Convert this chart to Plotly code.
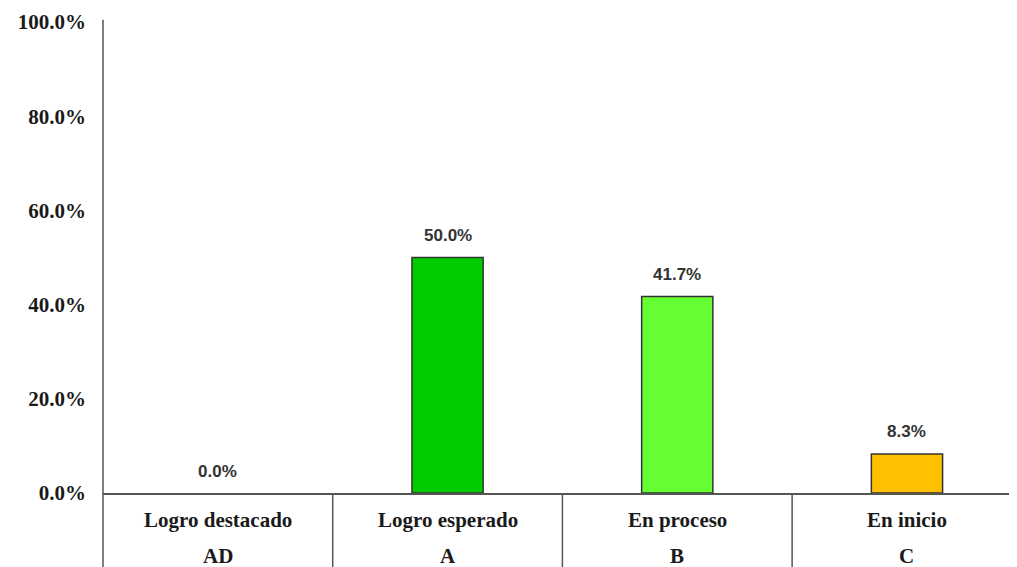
import plotly.graph_objects as go

categories = ["Logro destacado", "Logro esperado", "En proceso", "En inicio"]
codes = ["AD", "A", "B", "C"]
values = [0.0, 50.0, 41.7, 8.3]
colors = ["#00CC00", "#00CC00", "#66FF33", "#FFC000"]
y_ticks = [0, 20, 40, 60, 80, 100]
y_tick_labels = ["0.0%", "20.0%", "40.0%", "60.0%", "80.0%", "100.0%"]

x_idx = list(range(len(categories)))
line_col = "#555555"
serif = "Liberation Serif"

fig = go.Figure()
fig.add_trace(go.Bar(
    x=x_idx, y=values, width=0.31,
    marker=dict(color=colors,
                line=dict(color="#333333", width=[1.5 if v > 0 else 0 for v in values])),
    hoverinfo="skip",
))

for i, v in zip(x_idx, values):
    fig.add_annotation(x=i, y=v, xref="x", yref="y", text=f"<b>{v:.1f}%</b>",
                       showarrow=False, yanchor="middle", yshift=22,
                       font=dict(family="Liberation Sans", size=17, color="#333333"))

for i, (c, code) in enumerate(zip(categories, codes)):
    fig.add_annotation(x=i, y=0, xref="x", yref="paper", text=f"<b>{c}</b>",
                       showarrow=False, yanchor="middle", yshift=-27,
                       font=dict(family=serif, size=21, color="#1a1a1a"))
    fig.add_annotation(x=i, y=0, xref="x", yref="paper", text=f"<b>{code}</b>",
                       showarrow=False, yanchor="middle", yshift=-63,
                       font=dict(family=serif, size=21, color="#1a1a1a"))

# category separators below axis
for b in [0.5, 1.5, 2.5, 3.5]:
    fig.add_shape(type="line", xref="x", yref="paper", x0=b, x1=b, y0=0, y1=-0.2,
                  line=dict(color=line_col, width=1.5))
fig.add_shape(type="line", xref="paper", yref="paper", x0=0, x1=0, y0=-0.2, y1=1.005,
              line=dict(color=line_col, width=1.5))

fig.update_layout(
    width=1009, height=559,
    margin=dict(l=95, r=0, t=14, b=74),
    paper_bgcolor="white", plot_bgcolor="white",
    showlegend=False,
    xaxis=dict(range=[-0.5, 3.479], showticklabels=False, showgrid=False,
               zeroline=False, showline=True, linecolor=line_col, linewidth=1.5,
               fixedrange=True),
    yaxis=dict(range=[0, 100], tickvals=y_ticks, ticktext=[f"<b>{t}</b>" for t in y_tick_labels],
               showgrid=False, zeroline=False, showline=False, ticks="",
               ticklabelstandoff=16,
               tickfont=dict(family=serif, size=21, color="#1a1a1a")),
)

fig.write_html("out.html")
